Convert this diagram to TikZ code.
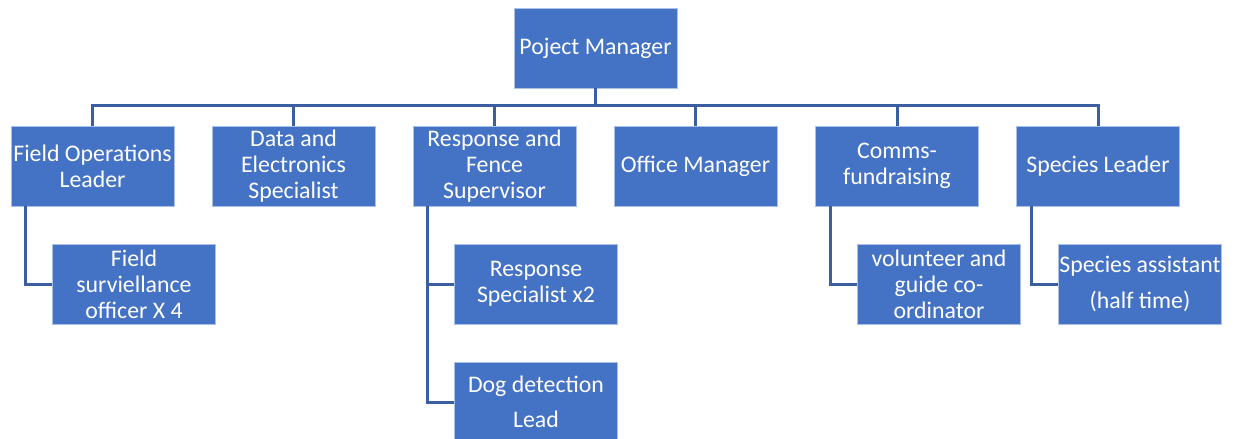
\documentclass[tikz,border=0pt]{standalone}
\usepackage{fontspec}
\setmainfont{Carlito}
\definecolor{boxblue}{HTML}{4472C4}
\definecolor{boxedge}{HTML}{A9C0E8}
\definecolor{linkblue}{HTML}{3A5E9F}
\tikzset{
  orgbox/.style={rectangle, fill=boxblue, draw=boxedge, line width=0.8pt,
    minimum width=163pt, minimum height=80pt, inner sep=0pt, align=center,
    text=white, font=\fontsize{23.8}{26}\selectfont},
  widebox/.style={orgbox, font=\fontsize{23.8}{35.5}\selectfont},
  link/.style={draw=linkblue, line width=3pt}
}
\begin{document}
\begin{tikzpicture}[x=1pt,y=-1pt]
\useasboundingbox (0,0) rectangle (1237,439);
\node[orgbox] (pm) at (595.5,48) {Poject Manager};
\node[orgbox] (fo) at (92.5,166) {Field Operations\\Leader};
\node[orgbox] (de) at (293.5,166) {Data and\\Electronics\\Specialist};
\node[orgbox] (rf) at (494.5,166) {Response and\\Fence\\Supervisor};
\node[orgbox] (om) at (695.5,166) {Office Manager};
\node[orgbox] (cf) at (897,166) {Comms-\\fundraising};
\node[orgbox] (sl) at (1098,166) {Species Leader};
\node[orgbox] (fs) at (134,284) {Field\\surviellance\\officer X 4};
\node[orgbox] (rs) at (536,284) {Response\\Specialist x2};
\node[widebox] (dd) at (536,402) {Dog detection\\Lead};
\node[orgbox] (vg) at (939,284) {volunteer and\\guide co-\\ordinator};
\node[widebox] (sa) at (1140,284) {Species assistant\\(half time)};
% top-level bus
\draw[link] (fo.north) -- ++(0,-20) -| (sl.north);
\draw[link] (pm.south) -- ++(0,18);
\foreach \n in {de,rf,om,cf}{\draw[link] (\n.north) -- ++(0,-20);}
% second level
\draw[link] ([xshift=15pt]fo.south west) |- (fs.west);
\draw[link] ([xshift=15pt]rf.south west) |- (rs.west);
\draw[link] ([xshift=15pt]rf.south west) |- (dd.west);
\draw[link] ([xshift=15pt]cf.south west) |- (vg.west);
\draw[link] ([xshift=15pt]sl.south west) |- (sa.west);
\end{tikzpicture}
\end{document}
